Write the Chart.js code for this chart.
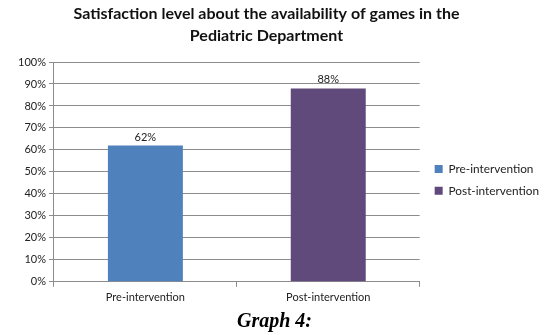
<!DOCTYPE html>
<html>
<head>
<meta charset="utf-8">
<script src="https://cdn.jsdelivr.net/npm/chart.js@4/dist/chart.umd.min.js"></script>
<style>
  html, body { margin: 0; padding: 0; background: #fff; }
  #wrap { width: 549px; height: 335px; position: relative; }
</style>
</head>
<body>
<div id="wrap"><canvas id="chart"></canvas></div>
<script>
// Satisfaction chart - pre vs post intervention
const categories = ['Pre-intervention', 'Post-intervention'];
const preValues = [62, null];
const postValues = [null, 88];
const yTicks = [0, 10, 20, 30, 40, 50, 60, 70, 80, 90, 100];
const titleLines = ['Satisfaction level about the availability of games in the', 'Pediatric Department'];

const textColor = '#222';
const gridColor = '#8c8c8c';
const uiFont = 'Lato, "Open Sans", sans-serif';

// value labels above bars
const barLabels = {
  id: 'barLabels',
  afterDatasetsDraw(chart) {
    const ctx = chart.ctx;
    ctx.save();
    ctx.font = '11px ' + uiFont;
    ctx.fillStyle = textColor;
    ctx.textAlign = 'center';
    ctx.textBaseline = 'bottom';
    chart.data.datasets.forEach((ds, i) => {
      chart.getDatasetMeta(i).data.forEach((bar, j) => {
        if (ds.data[j] == null) return;
        ctx.fillText(ds.data[j] + '%', bar.x, bar.y - 3);
      });
    });
    ctx.restore();
  }
};

// title sits a bit left of the canvas centre in the original
const offsetTitle = {
  id: 'offsetTitle',
  afterDraw(chart) {
    const ctx = chart.ctx;
    ctx.save();
    ctx.font = 'bold 16px ' + uiFont;
    ctx.fillStyle = '#111';
    ctx.textAlign = 'center';
    ctx.textBaseline = 'middle';
    const cx = chart.width / 2 - 8;
    titleLines.forEach((line, i) => ctx.fillText(line, cx, 14 + i * 22));
    ctx.restore();
  }
};

new Chart(document.getElementById('chart'), {
  type: 'bar',
  data: {
    labels: categories,
    datasets: [{
      label: 'Pre-intervention',
      data: preValues,
      backgroundColor: '#4f81bd',
      skipNull: true
    }, {
      label: 'Post-intervention',
      data: postValues,
      backgroundColor: '#604a7b',
      skipNull: true
    }]
  },
  options: {
    responsive: true,
    maintainAspectRatio: false,
    animation: false,
    datasets: { bar: { barPercentage: 0.41, categoryPercentage: 1 } },
    layout: { padding: { left: 0, right: 0, top: 62, bottom: 1 } },
    plugins: {
      title: { display: false },
      subtitle: {
        display: true,
        position: 'bottom',
        text: 'Graph 4:',
        color: '#000',
        font: { family: '"Liberation Serif", serif', size: 20, style: 'italic', weight: 'bold' },
        padding: { top: 2, bottom: 0 }
      },
      legend: {
        position: 'right',
        align: 'start',
        maxWidth: 200,
        // blank title used as a spacer to push the items down
        title: { display: true, text: ' ', font: { size: 10 }, padding: 39.5 },
        labels: {
          color: textColor,
          font: { family: uiFont, size: 11.8 },
          boxWidth: 8,
          boxHeight: 8,
          padding: 10
        }
      },
      tooltip: { enabled: false }
    },
    scales: {
      x: {
        grid: { offset: true, drawOnChartArea: false, color: gridColor, tickLength: 5 },
        border: { color: gridColor },
        ticks: { color: textColor, font: { family: uiFont, size: 11 }, padding: 4 }
      },
      y: {
        min: 0,
        max: 100,
        afterBuildTicks: axis => { axis.ticks = yTicks.map(v => ({ value: v })); },
        afterFit: axis => { axis.width += 15; },
        grid: { color: gridColor, tickLength: 5 },
        border: { color: gridColor },
        ticks: { color: textColor, font: { family: uiFont, size: 11 }, padding: 3, callback: v => v + '%' }
      },
      // empty spacer between plot and legend
      gap: {
        position: 'right',
        axis: 'y',
        display: true,
        grid: { display: false },
        border: { display: false },
        ticks: { display: false },
        afterFit: axis => { axis.width = 5; }
      }
    }
  },
  plugins: [barLabels, offsetTitle]
});
</script>
</body>
</html>
